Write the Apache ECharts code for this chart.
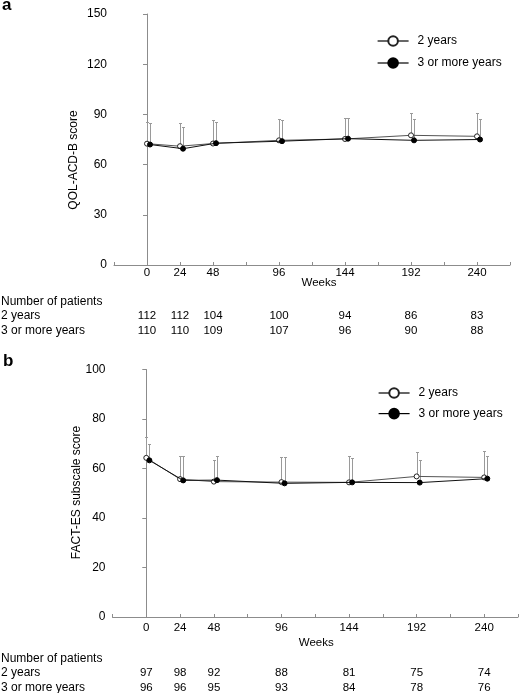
<!DOCTYPE html>
<html><head><meta charset="utf-8">
<script src="https://cdn.jsdelivr.net/npm/echarts@6/dist/echarts.min.js"></script>
<style>html,body{margin:0;padding:0;background:#fff}#c{width:519px;height:693px}</style>
</head><body><div id="c"></div>
<script>
// ---------- data ----------
const weeks = [0, 24, 48, 96, 144, 192, 240];
const xTickLabels = [0, 24, 48, 96, 144, 192, 240];
const seriesNames = ['2 years', '3 or more years'];
const rowHeaders = ['Number of patients', '2 years', '3 or more years'];

// Panel a: QOL-ACD-B score (mean and mean + SD)
const qolMean2y  = [72.5, 71.0, 72.6, 74.5, 75.3, 77.5, 76.9];
const qolUpper2y = [85.6, 84.8, 86.5, 87.0, 87.8, 90.9, 91.1];
const qolMean3y  = [72.0, 69.5, 72.8, 74.0, 75.5, 74.5, 75.0];
const qolUpper3y = [84.8, 82.7, 85.6, 86.4, 87.8, 87.5, 87.5];
const qolN2y = [112, 112, 104, 100, 94, 86, 83];
const qolN3y = [110, 110, 109, 107, 96, 90, 88];
const qolYTicks = [0, 30, 60, 90, 120, 150];

// Panel b: FACT-ES subscale score (mean and mean + SD)
const esMean2y  = [64.3, 55.7, 54.7, 54.5, 54.4, 56.8, 56.4];
const esUpper2y = [72.9, 65.2, 63.5, 64.5, 65.1, 66.8, 67.2];
const esMean3y  = [63.3, 55.2, 55.3, 54.0, 54.4, 54.3, 55.9];
const esUpper3y = [70.1, 65.2, 65.2, 64.5, 64.1, 63.6, 65.2];
const esN2y = [97, 98, 92, 88, 81, 75, 74];
const esN3y = [96, 96, 95, 93, 84, 78, 76];
const esYTicks = [0, 20, 40, 60, 80, 100];

// ---------- styling ----------
const FONT = '"Liberation Sans", Arial, Helvetica, sans-serif';
const AXIS_C = '#8c8c8c';
const ERR_C = '#9a9a9a';
const DODGE = 2.2; // horizontal dodge (weeks) of the second group

function errorBarRender(params, api) {
  const x = api.value(0), m = api.value(1), u = api.value(2);
  const p0 = api.coord([x, m]);
  const p1 = api.coord([x, u]);
  const px = Math.round(p0[0]) + 0.5;
  const py = Math.round(p1[1]) + 0.5;
  const cap = 1.5;
  return {
    type: 'group',
    children: [
      {type: 'line', shape: {x1: px, y1: p0[1], x2: px, y2: py}, style: {stroke: ERR_C, lineWidth: 1}},
      {type: 'line', shape: {x1: px - cap, y1: py, x2: px + cap, y2: py}, style: {stroke: ERR_C, lineWidth: 1}}
    ]
  };
}

function mainX(gi, labelMargin, nameGap, namePad) {
  return {
    gridIndex: gi, type: 'value', min: -24, max: 264, interval: 24,
    axisLine: {show: true, onZero: false, lineStyle: {color: AXIS_C, width: 1}},
    axisTick: {show: true, inside: true, length: 3, lineStyle: {color: AXIS_C}},
    axisLabel: {
      margin: labelMargin, fontSize: 11.5, color: '#000', fontFamily: FONT,
      formatter: v => xTickLabels.indexOf(v) >= 0 ? String(v) : ''
    },
    splitLine: {show: false},
    name: 'Weeks', nameLocation: 'middle', nameGap: nameGap, nameMoveOverlap: false,
    nameTextStyle: {fontSize: 11.5, color: '#000', fontFamily: FONT, padding: namePad}
  };
}
function rowX(gi, offset, counts) {
  return {
    gridIndex: gi, type: 'value', min: -24, max: 264, interval: 24,
    position: 'bottom', offset: offset,
    axisLine: {show: false}, axisTick: {show: false}, splitLine: {show: false},
    axisLabel: {
      margin: 0, fontSize: 11.5, color: '#000', fontFamily: FONT,
      formatter: v => { const i = weeks.indexOf(v); return i >= 0 ? String(counts[i]) : ''; }
    }
  };
}
function yAx(gi, ticks) {
  return {
    gridIndex: gi, type: 'value', min: ticks[0], max: ticks[ticks.length - 1],
    interval: ticks[1] - ticks[0],
    axisLine: {show: true, lineStyle: {color: AXIS_C, width: 1}},
    axisTick: {show: true, length: 4, lineStyle: {color: AXIS_C}},
    axisLabel: {margin: 7, fontSize: 12, color: '#000', fontFamily: FONT},
    splitLine: {show: false}
  };
}
function panelSeries(xi, yi, mean2, up2, mean3, up3) {
  return [
    {name: 'err2', type: 'custom', xAxisIndex: xi, yAxisIndex: yi, renderItem: errorBarRender,
     encode: {x: 0, y: [1, 2]}, z: 1, silent: true,
     data: weeks.map((w, i) => [w, mean2[i], up2[i]])},
    {name: 'err3', type: 'custom', xAxisIndex: xi, yAxisIndex: yi, renderItem: errorBarRender,
     encode: {x: 0, y: [1, 2]}, z: 1, silent: true,
     data: weeks.map((w, i) => [w + DODGE, mean3[i], up3[i]])},
    {name: seriesNames[0], type: 'line', xAxisIndex: xi, yAxisIndex: yi, z: 3,
     symbol: 'circle', symbolSize: 5, showAllSymbol: true,
     lineStyle: {color: '#555', width: 1},
     itemStyle: {color: '#fff', borderColor: '#222', borderWidth: 1},
     data: weeks.map((w, i) => [w, mean2[i]])},
    {name: seriesNames[1], type: 'line', xAxisIndex: xi, yAxisIndex: yi, z: 4,
     symbol: 'circle', symbolSize: 5, showAllSymbol: true,
     lineStyle: {color: '#111', width: 1},
     itemStyle: {color: '#000', borderColor: '#000', borderWidth: 1},
     data: weeks.map((w, i) => [w + DODGE, mean3[i]])}
  ];
}
function legendAt(left, top, gap) {
  return {
    data: seriesNames, orient: 'vertical', left: left, top: top, padding: 0,
    itemWidth: 31, itemHeight: 12, itemGap: gap, selectedMode: false,
    lineStyle: {color: '#000', width: 1.2},
    textStyle: {fontSize: 12, color: '#000', fontFamily: FONT, lineHeight: 12, padding: [0, 0, 0, 4]}
  };
}
function txt(text, x, y, opts) {
  return Object.assign({
    type: 'text', x: x, y: y, silent: true,
    style: Object.assign({text: text, fill: '#000', font: '12px ' + FONT, align: 'left', verticalAlign: 'middle'}, (opts && opts.style) || {})
  }, opts && opts.rotation !== undefined ? {rotation: opts.rotation} : {});
}

const option = {
  animation: false,
  backgroundColor: '#fff',
  grid: [
    {left: 114, top: 14, width: 396, height: 251, outerBoundsMode: 'none', containLabel: false},
    {left: 112.5, top: 369.5, width: 405.5, height: 247.5, outerBoundsMode: 'none', containLabel: false}
  ],
  xAxis: [
    mainX(0, 2, 11.5, [0, 0, 0, 14]),
    rowX(0, 45, qolN2y),
    rowX(0, 59.5, qolN3y),
    mainX(1, 4.5, 19.5, [0, 0, 0, 2]),
    rowX(1, 49.5, esN2y),
    rowX(1, 64.5, esN3y)
  ],
  yAxis: [yAx(0, qolYTicks), yAx(1, esYTicks)],
  legend: [legendAt(377, 35, 10), legendAt(378, 387, 8.6)],
  series: [].concat(
    panelSeries(0, 0, qolMean2y, qolUpper2y, qolMean3y, qolUpper3y),
    panelSeries(3, 1, esMean2y, esUpper2y, esMean3y, esUpper3y)
  ),
  graphic: [
    txt('a', 2, 5.5, {style: {font: 'bold 17px ' + FONT}}),
    txt('b', 3, 361, {style: {font: 'bold 17px ' + FONT}}),
    txt('QOL-ACD-B score', 74, 160, {rotation: Math.PI / 2, style: {align: 'center'}}),
    txt('FACT-ES subscale score', 76.5, 492.5, {rotation: Math.PI / 2, style: {align: 'center'}}),
    txt(rowHeaders[0], 1, 301.5),
    txt(rowHeaders[1], 1, 316),
    txt(rowHeaders[2], 1, 330.5),
    txt(rowHeaders[0], 1, 658.5),
    txt(rowHeaders[1], 1, 672.5),
    txt(rowHeaders[2], 1, 687.5)
  ]
};

const chart = echarts.init(document.getElementById('c'), null, {renderer: 'canvas'});
chart.setOption(option);
</script>
</body></html>
